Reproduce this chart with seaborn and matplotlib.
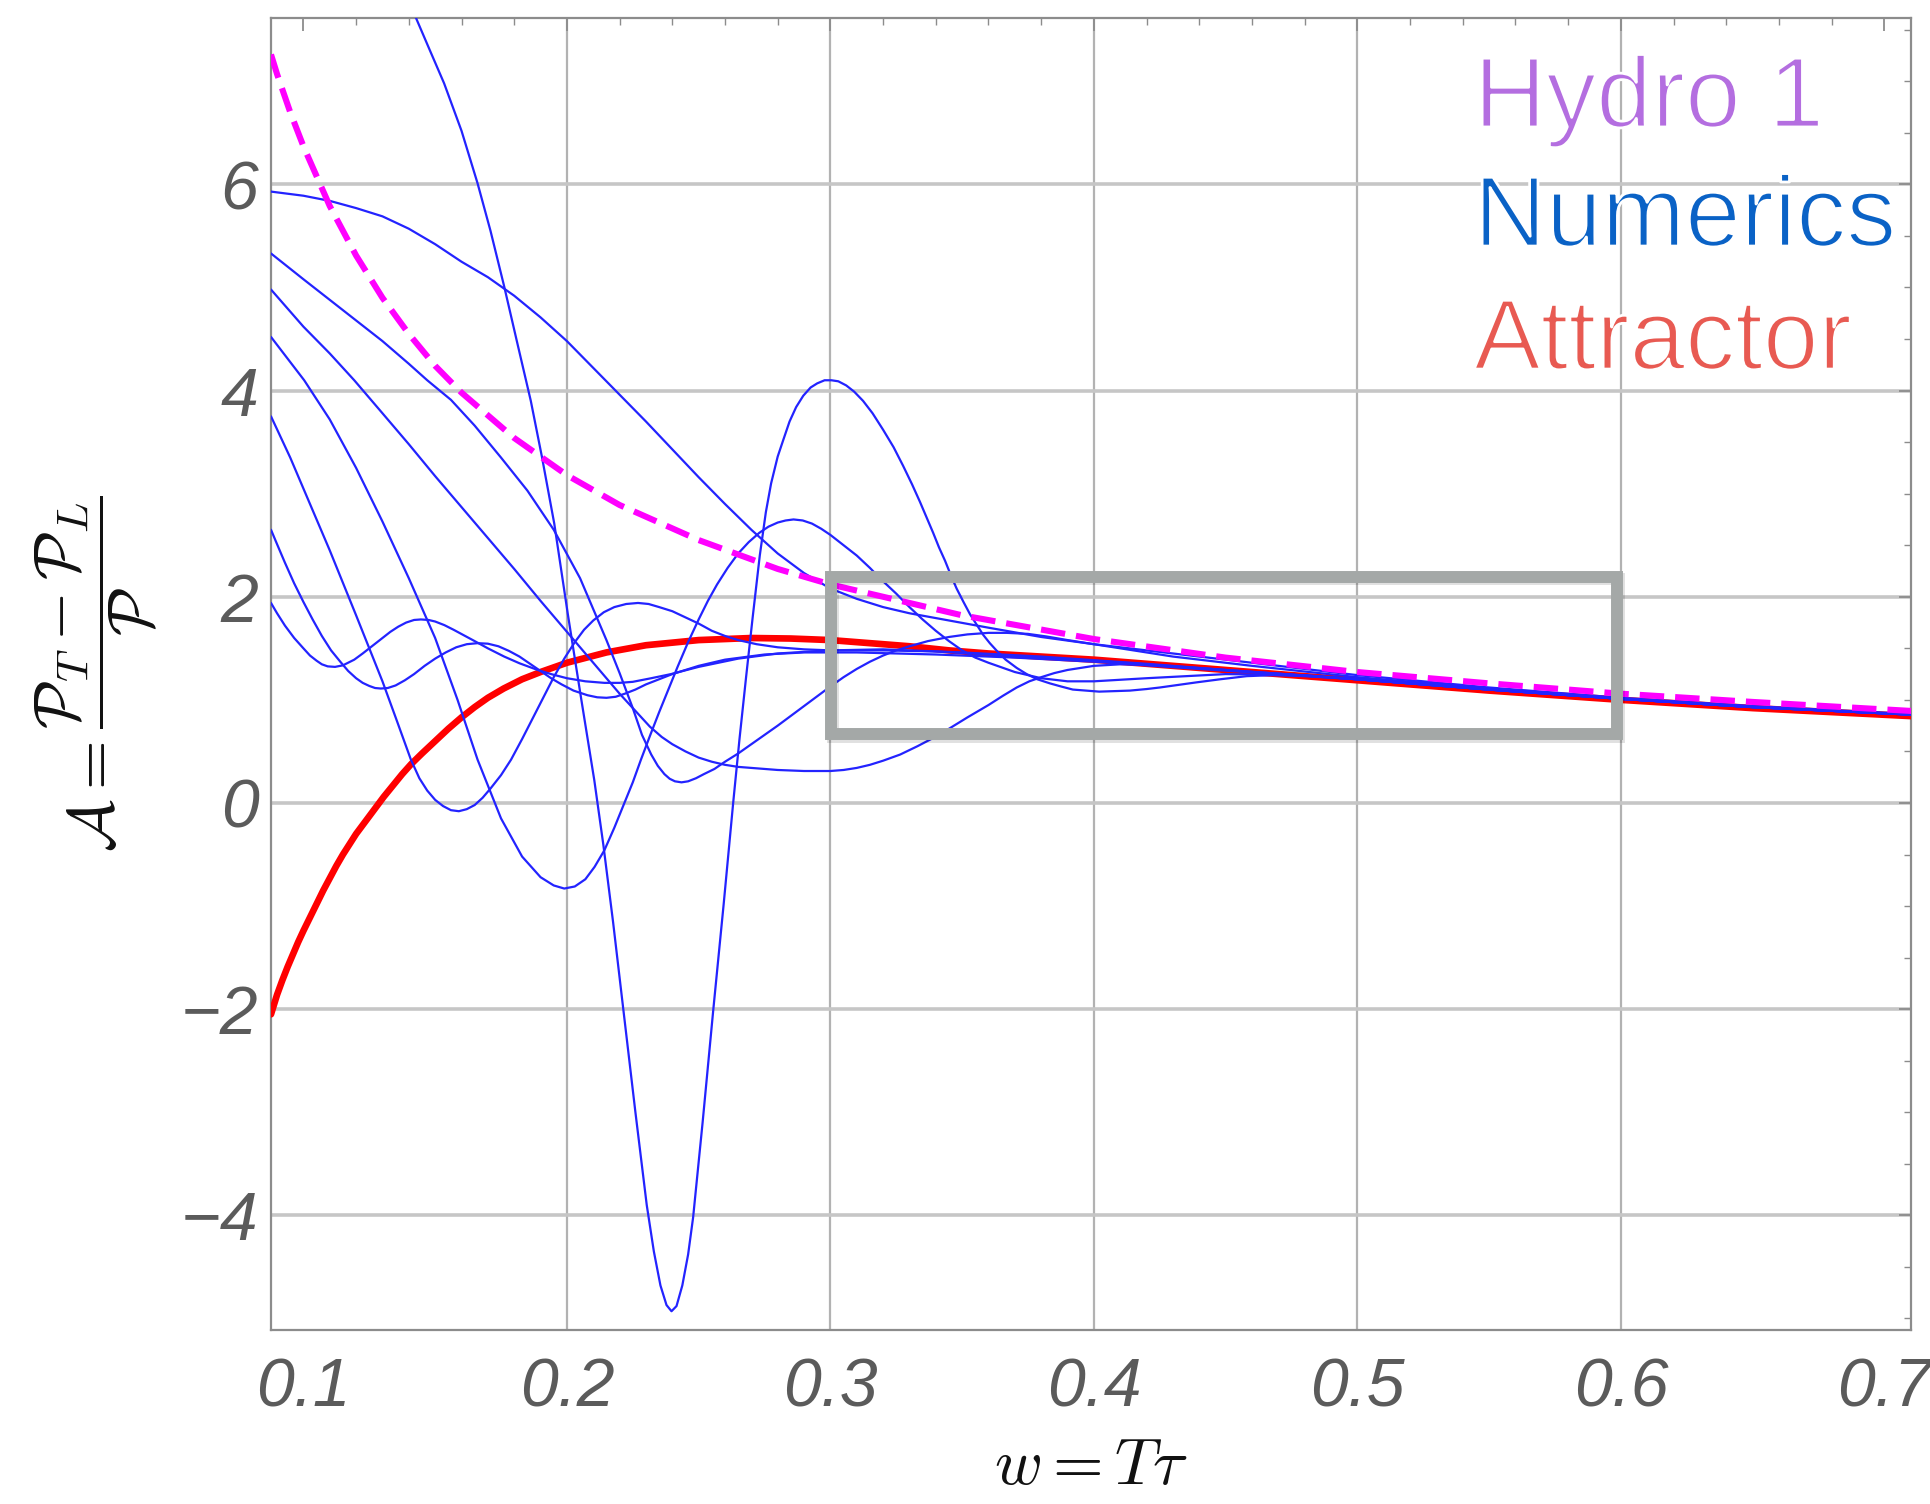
import matplotlib
matplotlib.use("Agg")
import matplotlib.pyplot as plt
import matplotlib.patheffects as pe
from matplotlib.patches import Rectangle
from matplotlib.ticker import MultipleLocator
import pandas as pd
import seaborn as sns

# ---------------------------------------------------------------- data
# attractor solution A(w)
attractor_w = [0.0877, 0.090, 0.092, 0.094, 0.096, 0.098, 0.100, 0.1025, 0.105, 0.1075,
               0.110, 0.1125, 0.115, 0.1175, 0.120, 0.1235, 0.127, 0.1305, 0.134, 0.1375,
               0.141, 0.145, 0.150, 0.155, 0.160, 0.165, 0.170, 0.176, 0.183, 0.190,
               0.200, 0.215, 0.230, 0.250, 0.270, 0.285, 0.300, 0.315, 0.330, 0.345,
               0.360, 0.380, 0.400, 0.450, 0.500, 0.550, 0.600, 0.650, 0.712]
attractor_A = [-2.05, -1.86, -1.72, -1.59, -1.47, -1.35, -1.24, -1.11, -0.98, -0.85,
               -0.73, -0.61, -0.50, -0.40, -0.30, -0.18, -0.06, 0.06, 0.17, 0.28,
               0.38, 0.48, 0.60, 0.72, 0.83, 0.93, 1.02, 1.11, 1.20, 1.27,
               1.36, 1.46, 1.53, 1.58, 1.60, 1.595, 1.58, 1.55, 1.52, 1.48,
               1.45, 1.42, 1.39, 1.29, 1.19, 1.09, 1.00, 0.92, 0.84]

# first-order hydrodynamics
hydro_w = [0.0877, 0.090, 0.095, 0.100, 0.110, 0.120, 0.130, 0.140, 0.150, 0.160, 0.180,
           0.200, 0.220, 0.250, 0.280, 0.300, 0.350, 0.400, 0.450, 0.500, 0.550, 0.600,
           0.650, 0.712]
hydro_A = [7.26, 7.07, 6.70, 6.37, 5.79, 5.31, 4.90, 4.55, 4.24, 3.98, 3.54,
           3.18, 2.89, 2.55, 2.27, 2.12, 1.82, 1.59, 1.41, 1.27, 1.16, 1.06,
           0.98, 0.89]

# numerical solutions for different initial conditions
run1_w = [0.136, 0.1428, 0.148, 0.1534, 0.160, 0.1661, 0.171, 0.1762, 0.181, 0.1863,
          0.1905, 0.1952, 0.2003, 0.2053, 0.2104, 0.2138, 0.2175, 0.2214, 0.226, 0.2303,
          0.233, 0.2355, 0.2378, 0.2397, 0.2416, 0.2438, 0.246, 0.2479, 0.2515, 0.2555,
          0.2595, 0.2631, 0.2655, 0.268, 0.2705, 0.2732, 0.2755, 0.2775, 0.280, 0.2821,
          0.2845, 0.287, 0.2897, 0.2925, 0.295, 0.2978, 0.3004, 0.303, 0.306, 0.309,
          0.3124, 0.316, 0.320, 0.324, 0.3276, 0.331, 0.334, 0.3365, 0.339, 0.3412,
          0.3435, 0.3457, 0.3479, 0.3505, 0.353, 0.3555, 0.358, 0.3605, 0.363, 0.3665,
          0.3707, 0.3745, 0.3785, 0.3833, 0.3875, 0.392, 0.397, 0.402, 0.408, 0.4137,
          0.420, 0.425, 0.432, 0.439, 0.448, 0.458, 0.468, 0.480, 0.500, 0.550,
          0.600, 0.650, 0.712]
run1_A = [8.00, 7.61, 7.30, 6.98, 6.52, 6.01, 5.55, 5.01, 4.48, 3.90,
          3.36, 2.71, 1.84, 1.03, 0.22, -0.40, -1.15, -2.00, -3.00, -3.90,
          -4.35, -4.68, -4.87, -4.93, -4.88, -4.68, -4.38, -4.02, -3.10, -2.02,
          -0.98, 0.00, 0.62, 1.22, 1.80, 2.40, 2.82, 3.10, 3.36, 3.52,
          3.70, 3.84, 3.95, 4.03, 4.07, 4.10, 4.10, 4.09, 4.05, 3.99,
          3.90, 3.78, 3.62, 3.45, 3.27, 3.09, 2.92, 2.77, 2.62, 2.48,
          2.35, 2.21, 2.08, 1.95, 1.83, 1.73, 1.63, 1.55, 1.48, 1.39,
          1.31, 1.25, 1.20, 1.16, 1.13, 1.10, 1.09, 1.08, 1.085, 1.09,
          1.105, 1.12, 1.145, 1.17, 1.20, 1.23, 1.24, 1.23, 1.20, 1.10,
          1.01, 0.93, 0.855]

run2_w = [0.0877, 0.100, 0.110, 0.120, 0.130, 0.140, 0.150, 0.160, 0.170, 0.180,
          0.190, 0.200, 0.210, 0.220, 0.230, 0.240, 0.250, 0.260, 0.270, 0.280,
          0.290, 0.300, 0.310, 0.320, 0.330, 0.345, 0.360, 0.380, 0.400, 0.430,
          0.460, 0.500, 0.550, 0.600, 0.650, 0.712]
run2_A = [5.93, 5.89, 5.84, 5.77, 5.69, 5.57, 5.42, 5.25, 5.10, 4.92,
          4.71, 4.48, 4.22, 3.96, 3.70, 3.43, 3.16, 2.90, 2.65, 2.42,
          2.23, 2.08, 1.98, 1.90, 1.84, 1.77, 1.70, 1.61, 1.54, 1.45,
          1.36, 1.24, 1.12, 1.02, 0.94, 0.86]

run3_w = [0.0877, 0.100, 0.110, 0.120, 0.130, 0.140, 0.147, 0.156, 0.165, 0.175,
          0.185, 0.195, 0.205, 0.215, 0.220, 0.225, 0.2285, 0.232, 0.2345, 0.237,
          0.239, 0.241, 0.2435, 0.246, 0.249, 0.252, 0.256, 0.260, 0.265, 0.270,
          0.275, 0.280, 0.285, 0.290, 0.295, 0.300, 0.305, 0.310, 0.315, 0.320,
          0.325, 0.330, 0.337, 0.345, 0.352, 0.360, 0.367, 0.375, 0.382, 0.390,
          0.400, 0.410, 0.430, 0.460, 0.500, 0.550, 0.600, 0.650, 0.712]
run3_A = [5.33, 5.08, 4.88, 4.68, 4.48, 4.26, 4.10, 3.91, 3.66, 3.35,
          3.03, 2.65, 2.18, 1.58, 1.26, 0.92, 0.66, 0.47, 0.36, 0.28,
          0.235, 0.21, 0.20, 0.21, 0.24, 0.28, 0.33, 0.40, 0.48, 0.57,
          0.66, 0.75, 0.845, 0.94, 1.035, 1.13, 1.22, 1.30, 1.37, 1.43,
          1.48, 1.52, 1.57, 1.61, 1.635, 1.65, 1.65, 1.64, 1.615, 1.58,
          1.54, 1.50, 1.42, 1.33, 1.22, 1.11, 1.01, 0.93, 0.855]

run4_w = [0.0877, 0.100, 0.110, 0.1193, 0.130, 0.140, 0.150, 0.160, 0.170, 0.180,
          0.190, 0.200, 0.210, 0.220, 0.2315, 0.236, 0.240, 0.245, 0.250, 0.255,
          0.260, 0.265, 0.270, 0.280, 0.290, 0.300, 0.305, 0.310, 0.315, 0.320,
          0.3265, 0.333, 0.339, 0.345, 0.352, 0.360, 0.3655, 0.3707, 0.3755, 0.380,
          0.385, 0.390, 0.395, 0.400, 0.410, 0.420, 0.450, 0.500, 0.550, 0.600,
          0.650, 0.712]
run4_A = [4.98, 4.62, 4.36, 4.10, 3.78, 3.48, 3.17, 2.87, 2.57, 2.27,
          1.96, 1.66, 1.36, 1.06, 0.74, 0.64, 0.57, 0.50, 0.44, 0.40,
          0.37, 0.35, 0.34, 0.32, 0.31, 0.31, 0.32, 0.34, 0.37, 0.41,
          0.47, 0.55, 0.63, 0.72, 0.83, 0.95, 1.04, 1.12, 1.18, 1.22,
          1.26, 1.29, 1.31, 1.33, 1.345, 1.34, 1.29, 1.20, 1.10, 1.01,
          0.93, 0.855]

run5_w = [0.0877, 0.1003, 0.110, 0.120, 0.130, 0.140, 0.150, 0.1585, 0.1661, 0.175,
          0.183, 0.190, 0.195, 0.199, 0.203, 0.207, 0.2105, 0.2142, 0.218, 0.2215,
          0.225, 0.2281, 0.2315, 0.235, 0.2385, 0.242, 0.246, 0.250, 0.2535, 0.257,
          0.261, 0.265, 0.269, 0.273, 0.2765, 0.280, 0.283, 0.286, 0.2895, 0.293,
          0.2965, 0.300, 0.305, 0.310, 0.315, 0.320, 0.325, 0.330, 0.335, 0.340,
          0.345, 0.350, 0.355, 0.360, 0.370, 0.380, 0.390, 0.400, 0.420, 0.450,
          0.480, 0.500, 0.550, 0.600, 0.650, 0.712]
run5_A = [4.52, 4.10, 3.72, 3.25, 2.73, 2.18, 1.60, 1.00, 0.42, -0.15,
          -0.52, -0.72, -0.80, -0.83, -0.81, -0.74, -0.62, -0.46, -0.24, -0.02,
          0.20, 0.42, 0.65, 0.88, 1.10, 1.32, 1.56, 1.78, 1.96, 2.12,
          2.28, 2.42, 2.53, 2.62, 2.68, 2.72, 2.74, 2.75, 2.74, 2.71,
          2.66, 2.60, 2.50, 2.40, 2.28, 2.15, 2.03, 1.90, 1.78, 1.67,
          1.57, 1.48, 1.41, 1.36, 1.27, 1.21, 1.18, 1.18, 1.21, 1.25,
          1.24, 1.20, 1.10, 1.01, 0.93, 0.855]

run6_w = [0.0877, 0.095, 0.100, 0.110, 0.120, 0.130, 0.135, 0.1408, 0.144, 0.147,
          0.150, 0.153, 0.156, 0.159, 0.162, 0.165, 0.168, 0.171, 0.175, 0.1788,
          0.183, 0.187, 0.191, 0.195, 0.199, 0.203, 0.2065, 0.210, 0.214, 0.218,
          0.2225, 0.227, 0.231, 0.235, 0.240, 0.245, 0.250, 0.255, 0.260, 0.265,
          0.272, 0.280, 0.290, 0.300, 0.320, 0.340, 0.360, 0.380, 0.400, 0.450,
          0.500, 0.550, 0.600, 0.650, 0.712]
run6_A = [3.75, 3.35, 3.05, 2.45, 1.82, 1.18, 0.83, 0.42, 0.24, 0.12,
          0.03, -0.03, -0.07, -0.08, -0.06, -0.02, 0.05, 0.14, 0.27, 0.42,
          0.62, 0.82, 1.02, 1.22, 1.40, 1.56, 1.68, 1.77, 1.85, 1.90,
          1.93, 1.94, 1.93, 1.90, 1.86, 1.80, 1.74, 1.67, 1.62, 1.58,
          1.54, 1.51, 1.49, 1.48, 1.48, 1.47, 1.44, 1.41, 1.38, 1.29,
          1.20, 1.10, 1.01, 0.93, 0.855]

run7_w = [0.0877, 0.090, 0.093, 0.0965, 0.100, 0.1025, 0.105, 0.107, 0.1092, 0.112,
          0.115, 0.1193, 0.1225, 0.126, 0.1295, 0.133, 0.136, 0.139, 0.142, 0.1446,
          0.1475, 0.150, 0.1535, 0.157, 0.161, 0.165, 0.170, 0.1762, 0.182, 0.1889,
          0.194, 0.200, 0.207, 0.2142, 0.220, 0.225, 0.232, 0.2395, 0.250, 0.265,
          0.280, 0.300, 0.320, 0.350, 0.380, 0.420, 0.460, 0.500, 0.550, 0.600,
          0.650, 0.712]
run7_A = [1.94, 1.84, 1.72, 1.60, 1.50, 1.43, 1.38, 1.345, 1.325, 1.32,
          1.335, 1.39, 1.45, 1.52, 1.59, 1.66, 1.71, 1.75, 1.775, 1.78,
          1.775, 1.76, 1.725, 1.68, 1.625, 1.57, 1.50, 1.42, 1.355, 1.29,
          1.25, 1.21, 1.18, 1.165, 1.165, 1.175, 1.21, 1.25, 1.32, 1.40,
          1.45, 1.48, 1.49, 1.46, 1.42, 1.35, 1.27, 1.20, 1.10, 1.01,
          0.93, 0.855]

run8_w = [0.0877, 0.090, 0.093, 0.0965, 0.100, 0.1035, 0.107, 0.1105, 0.114, 0.117,
          0.120, 0.1225, 0.125, 0.1272, 0.1294, 0.132, 0.135, 0.1385, 0.142, 0.146,
          0.150, 0.154, 0.158, 0.162, 0.1661, 0.170, 0.174, 0.178, 0.182, 0.186,
          0.190, 0.194, 0.198, 0.2025, 0.2078, 0.2115, 0.215, 0.2185, 0.222, 0.226,
          0.230, 0.235, 0.240, 0.250, 0.260, 0.275, 0.290, 0.310, 0.340, 0.370,
          0.400, 0.440, 0.500, 0.550, 0.600, 0.650, 0.712]
run8_A = [2.65, 2.51, 2.33, 2.13, 1.95, 1.78, 1.62, 1.48, 1.37, 1.28,
          1.21, 1.165, 1.135, 1.115, 1.11, 1.115, 1.14, 1.19, 1.25, 1.33,
          1.40, 1.46, 1.51, 1.54, 1.55, 1.545, 1.52, 1.475, 1.42, 1.35,
          1.28, 1.21, 1.15, 1.09, 1.045, 1.025, 1.02, 1.03, 1.06, 1.10,
          1.15, 1.20, 1.25, 1.33, 1.39, 1.44, 1.46, 1.46, 1.44, 1.41,
          1.37, 1.30, 1.20, 1.10, 1.01, 0.93, 0.855]

# highlighted window (w range, A range)
box_w = [0.3001, 0.5984]
box_A = [0.665, 2.195]

# axes ticks and labels
x_ticks = [0.1, 0.2, 0.3, 0.4, 0.5, 0.6, 0.7]
x_tick_labels = ["0.1", "0.2", "0.3", "0.4", "0.5", "0.6", "0.7"]
y_ticks = [-4, -2, 0, 2, 4, 6]
y_tick_labels = ["\u22124", "\u22122", "0", "2", "4", "6"]
grid_w = [0.2, 0.3, 0.4, 0.5, 0.6]

legend_labels = ["Hydro 1", "Numerics", "Attractor"]
legend_colors = ["#b46ee0", "#0a62c6", "#e85a52"]

# ---------------------------------------------------------------- style
sns.set_style("white")
plt.rcParams["font.family"] = ["DejaVu Sans"]
plt.rcParams["mathtext.fontset"] = "cm"

fig = plt.figure(figsize=(19.31, 15.04), dpi=100)
ax = fig.add_axes([0.14034, 0.11569, 0.84930, 0.87201])

runs = [(run1_w, run1_A), (run2_w, run2_A), (run3_w, run3_A), (run4_w, run4_A),
        (run5_w, run5_A), (run6_w, run6_A), (run7_w, run7_A), (run8_w, run8_A)]
numerics = pd.concat(
    [pd.DataFrame({"w": w, "A": a, "run": i}) for i, (w, a) in enumerate(runs, 1)],
    ignore_index=True,
)
attractor = pd.DataFrame({"w": attractor_w, "A": attractor_A})
hydro = pd.DataFrame({"w": hydro_w, "A": hydro_A})

# grid
for gw in grid_w:
    ax.axvline(gw, color="#b2b2b2", lw=1.6, zorder=0.5)
ax.yaxis.grid(True, color="#c6c6c6", lw=2.6, zorder=0.5)
ax.set_axisbelow(True)

# curves
sns.lineplot(data=attractor, x="w", y="A", color="#ff0000", lw=4.8,
             ax=ax, zorder=3)
sns.lineplot(data=numerics, x="w", y="A", units="run", estimator=None,
             color="#2323ff", lw=1.6, ax=ax, zorder=4)
sns.lineplot(data=hydro, x="w", y="A", color="#ff00ff", lw=4.4,
             ax=ax, zorder=5)
ax.lines[-1].set_linestyle((0, (4.0, 1.8)))

# highlighted window
rect = Rectangle((box_w[0], box_A[0]), box_w[1] - box_w[0], box_A[1] - box_A[0],
                 fill=False, ec="#a4a8a7", lw=8.6, zorder=6, joinstyle="miter")
rect.set_path_effects([pe.SimpleLineShadow(offset=(2, -2), shadow_color="k", alpha=0.12),
                       pe.Normal()])
ax.add_patch(rect)

# axes limits and ticks
ax.set_xlim(0.0877, 0.7101)
ax.set_ylim(-5.112, 7.609)
tick_font = dict(fontsize=49, fontstyle="italic", fontfamily="Liberation Sans",
                 color="#5b5b5b")
ax.set_xticks(x_ticks, x_tick_labels, **tick_font)
ax.set_yticks(y_ticks, y_tick_labels, **tick_font)
ax.xaxis.set_minor_locator(MultipleLocator(0.02))
ax.yaxis.set_minor_locator(MultipleLocator(0.5))
ax.tick_params(which="both", direction="in", top=True, right=True, color="#8c8c8c")
ax.tick_params(which="major", length=9, width=1.3)
ax.tick_params(which="minor", length=5, width=1.0)
ax.tick_params(axis="x", which="major", pad=19)
ax.tick_params(axis="y", which="major", pad=9)
for s in ax.spines.values():
    s.set_color("#8c8c8c")
    s.set_linewidth(1.6)

# axis labels
ax.set_xlabel(r"$w = T\tau$", fontsize=47, color="#111111", va="center")
ax.xaxis.set_label_coords(0.5, -0.104)
ax.set_ylabel(r"$\mathcal{A} = \dfrac{\mathcal{P}_T - \mathcal{P}_L}{\mathcal{P}}$",
              fontsize=46, color="#111111", va="center")
ax.yaxis.set_label_coords(-0.106, 0.5)

# legend text, drawn in a lighter stroke weight
legend_y = [0.9173, 0.8265, 0.7327]
thin = [pe.Normal(), pe.Stroke(linewidth=2.0, foreground="white")]
for label, col, ly in zip(legend_labels, legend_colors, legend_y):
    ax.text(0.7335, ly, label, transform=ax.transAxes, color=col, fontsize=72,
            family=["Liberation Sans", "DejaVu Sans"],
            ha="left", va="baseline", zorder=7, path_effects=thin)

fig.savefig("out.png", dpi=100)
